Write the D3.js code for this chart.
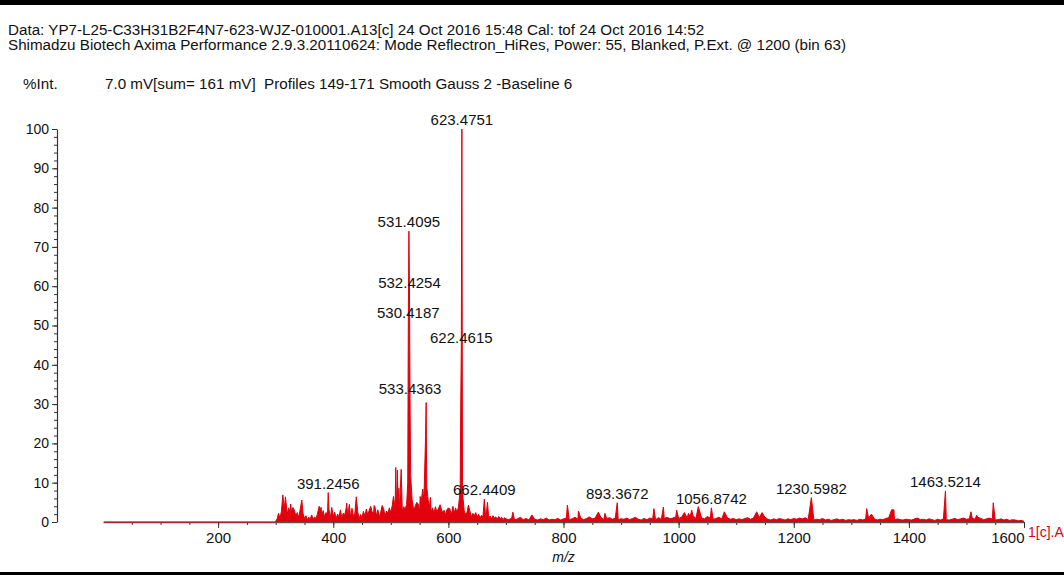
<!DOCTYPE html>
<html>
<head>
<meta charset="utf-8">
<script src="https://cdn.jsdelivr.net/npm/d3@7"></script>
<style>
  body { margin: 0; background: #fff; }
  svg { display: block; font-family: "Liberation Sans", Arial, sans-serif; }
  text { white-space: pre; }
</style>
</head>
<body>
<div id="chart"></div>
<script>
// header text
const headerLines = [
  'Data: YP7-L25-C33H31B2F4N7-623-WJZ-010001.A13[c] 24 Oct 2016 15:48 Cal: tof 24 Oct 2016 14:52',
  'Shimadzu Biotech Axima Performance 2.9.3.20110624: Mode Reflectron_HiRes, Power: 55, Blanked, P.Ext. @ 1200 (bin 63)'
];
const yTitle = '%Int.';
const infoLine = '7.0 mV[sum= 161 mV]  Profiles 149-171 Smooth Gauss 2 -Baseline 6';
const xTitle = 'm/z';
const traceName = '1[c].A';

// axes
const xTicks = [200, 400, 600, 800, 1000, 1200, 1400, 1600];
const yTicks = [0, 10, 20, 30, 40, 50, 60, 70, 80, 90, 100];

// peaks (m/z, %Int)
const peakMz = [312.4, 317, 324, 326, 330, 345.4, 375.5, 379, 391.2456, 397.5, 423.5, 428, 440, 465, 471, 485,
  504.6, 508.6, 511.5, 514, 518, 529.4, 530.4187, 531.4095, 532.4254, 533.4363, 534.4, 537, 545, 551, 555.5,
  560.4, 561.4, 562.4, 565, 569, 585.6, 599.6, 608, 620.5, 621.5, 622.4615, 623.4751, 624.5, 625.5, 634.8,
  662.4409, 668, 712, 745, 806.8, 826, 860.6, 872, 893.3672, 957, 973.5, 996.6, 1010, 1017, 1022.7, 1034.2,
  1056.8742, 1079.4, 1135.6, 1145, 1230.5982, 1326.7, 1335, 1370, 1374, 1463.5214, 1507.8, 1517.7, 1546.6];
const peakInt = [6.9, 6.4, 3.0, 4.6, 3.7, 5.6, 4.0, 3.7, 7.5, 3.7, 4.8, 4.5, 6.4, 4.0, 4.2, 4.2,
  6.5, 13.9, 13.2, 8.6, 13.4, 10, 51, 74, 58.5, 31.5, 12, 5.6, 5.0, 6.5, 8.4,
  22, 30.4, 9, 5.5, 6.3, 4.4, 3.5, 4.0, 8, 30, 44.5, 100, 10, 6, 4.3,
  5.8, 5.0, 2.5, 1.8, 4.3, 2.8, 2.5, 2.2, 4.9, 3.4, 3.8, 3.0, 2.4, 2.2, 3.0, 3.9,
  3.6, 2.6, 2.6, 2.4, 6.2, 3.4, 2.0, 3.1, 3.1, 7.9, 2.6, 1.7, 4.9];

// labelled peaks
const labelMz = [623.4751, 531.4095, 532.4254, 530.4187, 622.4615, 533.4363, 391.2456, 662.4409,
  893.3672, 1056.8742, 1230.5982, 1463.5214];

// baseline noise 300-700, one reading every 2.5 m/z
const noiseDenseStart = 300, noiseDenseStep = 2.5;
const noiseDense = [
  0.2, 0.8, 2.2, 0.9, 2.8, 1.2, 3.4, 1.0, 2.0, 3.6, 1.4, 2.6, 0.8, 3.0, 1.5, 2.4, 1.1, 3.2, 1.3, 2.2,
  0.9, 1.6, 0.6, 1.2, 0.8, 1.8, 0.7, 1.3, 0.9, 2.0, 1.0, 3.4, 1.6, 2.9, 1.2, 2.4, 1.8, 3.3, 1.1, 2.6,
  1.4, 2.5, 0.9, 2.0, 1.3, 3.1, 1.0, 2.3, 1.7, 3.6, 1.5, 2.8, 1.2, 3.5, 1.4, 2.2, 1.1, 2.6, 0.9, 1.9,
  1.2, 2.7, 1.5, 3.3, 1.8, 3.0, 1.4, 2.6, 2.0, 3.8, 1.6, 3.1, 1.3, 2.5, 1.9, 3.4, 1.5, 2.8, 2.2, 3.6,
  2.4, 4.2, 2.8, 3.6, 2.5, 4.4, 3.0, 4.8, 2.6, 3.9, 3.2, 4.5, 2.7, 3.8, 3.3, 5.2, 2.9, 4.1, 3.1, 4.6,
  2.8, 4.9, 3.4, 5.5, 3.0, 4.3, 2.7, 4.0, 2.5, 3.6, 2.2, 3.9, 2.6, 3.3, 2.0, 3.5, 2.3, 3.0, 1.9, 3.2,
  2.1, 3.4, 1.8, 2.9, 2.2, 3.6, 2.4, 3.8, 2.0, 3.0, 1.7, 2.8, 1.9, 2.5, 1.5, 2.7, 1.3, 2.2, 1.6, 2.4,
  1.2, 2.0, 1.0, 1.7, 1.3, 2.1, 0.9, 1.8, 1.1, 1.5, 0.8, 1.6, 1.0, 1.3, 0.7, 1.4, 0.9, 1.2, 0.6, 1.1,
  0.8
];
// baseline noise 705-1600, one reading every 5 m/z
const noiseSparseStart = 705, noiseSparseStep = 5;
const noiseSparse = [
  0.6, 1.0, 0.5, 0.8, 1.2, 0.6, 0.9, 0.5, 1.0, 0.7, 0.5, 0.8, 0.6, 1.0, 0.5, 0.7, 0.6, 0.9, 0.5, 0.8,
  1.0, 0.6, 0.8, 1.2, 0.7, 1.0, 0.6, 0.9, 1.3, 0.8, 1.0, 0.7, 1.2, 0.6, 0.9, 1.1, 0.7, 1.0, 0.6, 0.8,
  0.7, 1.0, 0.6, 0.9, 1.2, 0.7, 0.5, 0.9, 0.6, 1.0, 0.8, 0.6, 1.1, 0.7, 0.9, 1.2, 0.8, 1.0, 1.3, 0.9,
  1.2, 1.5, 1.0, 1.3, 1.6, 0.9, 1.2, 1.0, 0.8, 1.4, 1.0, 0.7, 0.9, 1.2, 0.8, 0.6, 1.0, 0.7, 0.9, 0.6,
  0.8, 0.6, 0.9, 1.1, 0.7, 1.0, 1.3, 1.1, 0.8, 1.2, 0.7, 0.5, 0.8, 0.6, 0.9, 0.7, 0.5, 0.8, 0.6, 0.9,
  0.7, 1.0, 0.8, 1.1, 0.6, 0.8, 0.5, 0.7, 0.6, 0.9, 0.5, 0.7, 0.4, 0.6, 0.8, 0.5, 0.7, 0.4, 0.6, 0.5,
  0.6, 0.4, 0.7, 0.5, 0.8, 1.0, 0.6, 0.8, 0.5, 0.7, 0.6, 0.9, 1.1, 0.7, 0.5, 0.8, 0.6, 0.5, 0.7, 0.6,
  0.5, 0.8, 1.0, 0.6, 0.7, 0.5, 0.8, 0.6, 0.4, 0.7, 0.5, 0.8, 0.6, 0.5, 0.7, 0.9, 0.6, 0.8, 1.0, 0.7,
  0.8, 1.0, 0.7, 1.2, 0.9, 0.6, 0.8, 1.0, 0.7, 0.5, 0.6, 0.8, 0.5, 0.7, 0.4, 0.6, 0.5, 0.3, 0.4, 0.2
];
const flatMz = [2, 298];

const width = 1064, height = 575;
const red = '#e2000c';
const axisColor = '#333';
const font = '"Liberation Sans", Arial, sans-serif';

const svg = d3.select('#chart').append('svg')
  .attr('width', width)
  .attr('height', height)
  .attr('viewBox', [0, 0, width, height]);

// page borders
svg.append('rect').attr('x', 0).attr('y', 0).attr('width', width).attr('height', 5).attr('fill', '#000');
svg.append('rect').attr('x', 0).attr('y', 572).attr('width', width).attr('height', 3).attr('fill', '#000');

const x = d3.scaleLinear().domain([0, 1600]).range([103, 1024]);
const y = d3.scaleLinear().domain([0, 100]).range([522, 129]);

// build the trace: noise points (dropping any that sit right on a peak) + peaks
const nearPeak = m => peakMz.some(p => Math.abs(p - m) < 1.0);
let pts = [];
flatMz.forEach(m => pts.push([m, 0]));
noiseDense.forEach((v, i) => {
  const m = noiseDenseStart + i * noiseDenseStep;
  if (!nearPeak(m)) pts.push([m, v]);
});
noiseSparse.forEach((v, i) => {
  const m = noiseSparseStart + i * noiseSparseStep;
  if (!nearPeak(m)) pts.push([m, v]);
});
peakMz.forEach((m, i) => pts.push([m, peakInt[i]]));
pts.sort((a, b) => a[0] - b[0]);

// header
svg.append('g')
  .selectAll('text')
  .data(headerLines)
  .join('text')
  .attr('x', 8)
  .attr('y', (d, i) => 35 + i * 15)
  .style('font-size', '15.2px')
  .attr('fill', '#111')
  .text(d => d);

svg.append('text').attr('x', 23).attr('y', 89).style('font-size', '15.2px').attr('fill', '#111').text(yTitle);
svg.append('text').attr('x', 105).attr('y', 89).style('font-size', '15.2px').attr('fill', '#111').text(infoLine);

// y axis
const yMinor = d3.range(0, 101, 2);
svg.append('g')
  .attr('transform', 'translate(57,0)')
  .call(d3.axisLeft(y).tickValues(yMinor).tickSize(3).tickFormat('').tickSizeOuter(0))
  .call(g => g.select('.domain').remove())
  .call(g => g.selectAll('line').attr('stroke', axisColor));

svg.append('g')
  .attr('transform', 'translate(57,0)')
  .call(d3.axisLeft(y).tickValues(yTicks).tickSize(5).tickPadding(3).tickSizeOuter(0))
  .call(g => g.select('.domain').attr('stroke', axisColor).attr('stroke-width', 1.2))
  .call(g => g.selectAll('line').attr('stroke', axisColor))
  .call(g => g.selectAll('text').style('font-size', '14px').attr('fill', '#111').attr('font-family', font));

// x axis
const xMinor = d3.range(50, 1601, 50);
svg.append('g')
  .attr('transform', 'translate(0,522)')
  .call(d3.axisBottom(x).tickValues(xMinor).tickSize(3).tickFormat('').tickSizeOuter(0))
  .call(g => g.select('.domain').remove())
  .call(g => g.selectAll('line').attr('stroke', axisColor));

svg.append('g')
  .attr('transform', 'translate(0,522)')
  .call(d3.axisBottom(x).tickValues(xTicks).tickFormat(d3.format('d')).tickSize(6).tickPadding(4).tickSizeOuter(0))
  .call(g => g.select('.domain').attr('stroke', '#555').attr('stroke-width', 1.5))
  .call(g => g.selectAll('line').attr('stroke', axisColor))
  .call(g => g.selectAll('text').style('font-size', '15px').attr('fill', '#111').attr('font-family', font))
  .call(g => g.selectAll('.tick').filter(d => d === 1600).select('text')
    .attr('text-anchor', 'end').attr('x', 0));

svg.append('text')
  .attr('x', x(800))
  .attr('y', 562)
  .attr('text-anchor', 'middle')
  .style('font-size', '14px')
  .style('font-style', 'italic')
  .attr('fill', '#111')
  .text(xTitle);

svg.append('text')
  .attr('x', 1028)
  .attr('y', 537)
  .style('font-size', '14px')
  .attr('fill', red)
  .text(traceName);

// spectrum: filled under the profile, then the profile line on top
const area = d3.area().x(d => x(d[0])).y0(y(0)).y1(d => y(d[1]));
const line = d3.line().x(d => x(d[0])).y(d => y(d[1]));

svg.append('path')
  .datum(pts)
  .attr('d', area)
  .attr('fill', red);

svg.append('path')
  .datum(pts)
  .attr('d', line)
  .attr('fill', 'none')
  .attr('stroke', red)
  .attr('stroke-width', 1);

// peak labels
svg.append('g')
  .selectAll('text')
  .data(labelMz)
  .join('text')
  .attr('x', d => x(d))
  .attr('y', d => y(peakInt[peakMz.indexOf(d)]) - 4)
  .attr('text-anchor', 'middle')
  .style('font-size', '15px')
  .attr('fill', '#111')
  .text(d => d.toFixed(4));
</script>
</body>
</html>
